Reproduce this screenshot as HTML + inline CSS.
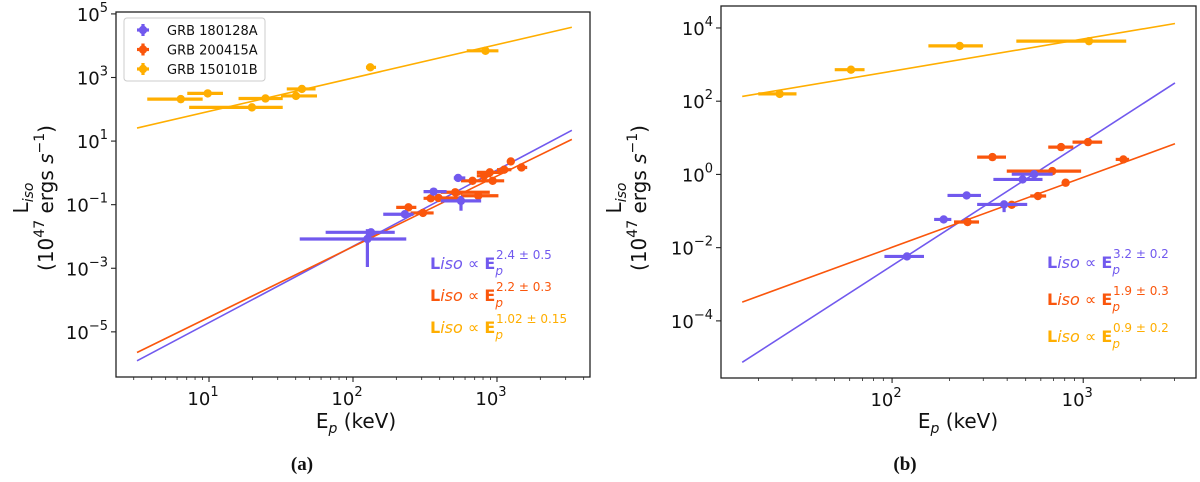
<!DOCTYPE html>
<html><head><meta charset="utf-8"><style>
html,body{margin:0;padding:0;background:#fff;}
svg{display:block;font-family:"DejaVu Sans","Liberation Sans",sans-serif;}
</style></head><body>
<svg id="fig" width="1200" height="482" viewBox="0 0 1200 482"></svg>
<script>
// ---------- data (log10 values) ----------
// Panel a
const aYelLogE=[0.804,0.991,1.298,1.392,1.604,1.645,2.12,2.92];
const aYelLogEmin=[0.571,0.849,0.862,1.205,1.5,1.54,2.09,2.79];
const aYelLogEmax=[0.956,1.097,1.512,1.512,1.75,1.74,2.16,3.01];
const aYelLogL=[2.32,2.50,2.06,2.34,2.42,2.64,3.32,3.84];
const aPurLogE=[2.10,2.125,2.36,2.56,2.73,2.75];
const aPurLogEmin=[1.63,1.81,2.21,2.49,2.70,2.61];
const aPurLogEmax=[2.37,2.29,2.42,2.65,2.78,2.89];
const aPurLogL=[-2.08,-1.87,-1.30,-0.59,-0.16,-0.88];
const aPurLogLmin=[-2.96,-2.0,-1.4,-0.65,-0.22,-1.19];
const aPurLogLmax=[-1.77,-1.75,-1.2,-0.53,-0.1,-0.72];
const aRedLogE=[2.385,2.486,2.54,2.594,2.71,2.87,2.83,2.91,2.95,2.97,3.05,3.096,3.17];
const aRedLogEmin=[2.30,2.40,2.49,2.51,2.61,2.75,2.75,2.86,2.86,2.90,3.0,3.07,3.14];
const aRedLogEmax=[2.44,2.56,2.62,2.75,2.95,3.01,2.94,2.96,3.04,3.05,3.1,3.12,3.21];
const aRedLogL=[-1.085,-1.26,-0.80,-0.79,-0.61,-0.72,-0.25,-0.09,0.016,-0.25,0.10,0.36,0.17];
const aSlopes=[2.4,2.22,1.05];
const aIntercepts=[-7.11,-6.76,0.885];
// Panel b
const bYelLogE=[1.412,1.785,2.354,3.03];
const bYelLogEmin=[1.30,1.70,2.19,2.65];
const bYelLogEmax=[1.50,1.856,2.475,3.225];
const bYelLogL=[2.20,2.86,3.51,3.64];
const bPurLogE=[2.078,2.27,2.39,2.586,2.683,2.743];
const bPurLogEmin=[1.96,2.22,2.29,2.445,2.53,2.626];
const bPurLogEmax=[2.167,2.31,2.465,2.707,2.787,2.84];
const bPurLogL=[-2.24,-1.23,-0.574,-0.82,-0.137,0.006];
const bPurLogLmin=[-2.24,-1.23,-0.574,-1.03,-0.137,0.006];
const bPurLogLmax=[-2.24,-1.23,-0.574,-0.71,-0.137,0.006];
const bRedLogE=[2.395,2.525,2.626,2.763,2.838,2.884,2.908,3.025,3.21];
const bRedLogEmin=[2.324,2.445,2.596,2.723,2.60,2.817,2.908,2.944,3.17];
const bRedLogEmax=[2.455,2.596,2.656,2.806,2.989,2.948,2.908,3.099,3.24];
const bRedLogL=[-1.30,0.473,-0.83,-0.59,0.09,0.746,-0.227,0.883,0.41];
const bSlopes=[3.37,1.91,0.88];
const bIntercepts=[-9.23,-5.81,1.06];
const aXTicks=[1,2,3];
const aYTicks=[5,3,1,-1,-3,-5];
const bXTicks=[2,3];
const bYTicks=[4,2,0,-2,-4];
const aLabels=[["2.4","0.5"],["2.2","0.3"],["1.02","0.15"]];
const bLabels=[["3.2","0.2"],["1.9","0.3"],["0.9","0.2"]];

const PUR="#7159ee",RED="#fa560c",YEL="#ffae00";
const NS="http://www.w3.org/2000/svg";
const svg=document.getElementById('fig');
function mk(tag,attrs,parent){const e=document.createElementNS(NS,tag);for(const k in attrs)e.setAttribute(k,attrs[k]);(parent||svg).appendChild(e);return e;}

function panel(cfg){
  const g=mk('g',{});
  
  
  const X=v=>cfg.x0+(v-cfg.lx0)/(cfg.lx1-cfg.lx0)*(cfg.x1-cfg.x0);
  const Y=v=>cfg.y1-(v-cfg.ly0)/(cfg.ly1-cfg.ly0)*(cfg.y1-cfg.y0);
  const cid='clip'+cfg.name;
  const cp=mk('clipPath',{id:cid},g);mk('rect',{x:cfg.x0,y:cfg.y0,width:cfg.x1-cfg.x0,height:cfg.y1-cfg.y0},cp);
  const plot=mk('g',{'clip-path':'url(#'+cid+')'},g);
  
  
  const cols=[PUR,RED,YEL];
  const lx=cfg.fitX;
  for(let i=0;i<3;i++){
    const l=mk('line',{x1:X(lx[0]),y1:Y(cfg.slopes[i]*lx[0]+cfg.ints[i]),x2:X(lx[1]),y2:Y(cfg.slopes[i]*lx[1]+cfg.ints[i]),stroke:cols[i],'stroke-width':1.6},plot);
    
    
  }
  cfg.series.forEach(s=>{
    for(let i=0;i<s.e.length;i++){
      const pg=mk('g',{},plot);
      
      
      mk('line',{x1:X(s.emin[i]),x2:X(s.emax[i]),y1:Y(s.l[i]),y2:Y(s.l[i]),stroke:s.c,'stroke-width':3.2},pg);
      if(s.lmin){mk('line',{x1:X(s.e[i]),x2:X(s.e[i]),y1:Y(s.lmin[i]),y2:Y(s.lmax[i]),stroke:s.c,'stroke-width':3.2},pg);}
      mk('circle',{cx:X(s.e[i]),cy:Y(s.l[i]),r:4.2,fill:s.c},pg);
    }
  });
  const fr=mk('rect',{x:cfg.x0,y:cfg.y0,width:cfg.x1-cfg.x0,height:cfg.y1-cfg.y0,fill:'none',stroke:'#222','stroke-width':1.3},g);
  
  
  for(let d=Math.floor(cfg.lx0);d<=Math.ceil(cfg.lx1);d++){
    for(let m=1;m<10;m++){
      const v=d+Math.log10(m);
      if(v<cfg.lx0||v>cfg.lx1)continue;
      const px=X(v);
      mk('line',{x1:px,x2:px,y1:cfg.y1,y2:cfg.y1+(m==1?5:3),stroke:'#222','stroke-width':m==1?1.1:0.8},g);
    }
  }
  cfg.xt.forEach(t=>{
    const tx=mk('text',{x:X(t)-6,y:cfg.y1+28,'font-size':18,'text-anchor':'middle',fill:'#111'},g);
    
    
    tx.innerHTML='10<tspan dy="-9" font-size="13">'+t+'</tspan>';
  });
  cfg.yt.forEach(t=>{
    const py=Y(t);
    mk('line',{x1:cfg.x0-5,x2:cfg.x0,y1:py,y2:py,stroke:'#222','stroke-width':1.1},g);
    const tx=mk('text',{x:cfg.x0-8,y:py+7,'font-size':18,'text-anchor':'end',fill:'#111'},g);
    
    
    tx.innerHTML='10<tspan dy="-9" font-size="13">'+(t<0?'\u2212'+(-t):t)+'</tspan>';
  });
  const xl=mk('text',{x:cfg.xlx,y:428,'font-size':20,'text-anchor':'middle',fill:'#111'},g);
  
  
  xl.innerHTML='E<tspan dy="5" font-size="14" font-style="italic">p</tspan><tspan dy="-5">\u00A0(keV)</tspan>';
  const yl=mk('text',{transform:'translate('+cfg.ylx+','+cfg.yly+') rotate(-90)','font-size':20,'text-anchor':'middle',fill:'#111'},g);
  
  
  yl.innerHTML='<tspan x="0" dy="0">L<tspan dy="5" font-size="14" font-style="italic">iso</tspan></tspan><tspan x="0" dy="20">(10<tspan dy="-9" font-size="14">47</tspan><tspan dy="9">\u00A0ergs\u00A0</tspan><tspan font-style="italic">s</tspan><tspan dy="-9" font-size="14">\u22121</tspan><tspan dy="9">)</tspan></tspan>';
  for(let i=0;i<3;i++){
    const t=mk('text',{x:cfg.lbx,y:cfg.lby[i],'font-size':16,fill:cols[i]},g);
    
    
    t.innerHTML='<tspan font-weight="bold">L</tspan><tspan font-style="italic">iso</tspan>\u00A0\u221D\u00A0<tspan font-weight="bold">E</tspan><tspan dy="6" font-size="12" font-style="italic">p</tspan><tspan dx="-7" dy="-16" font-size="12">'+cfg.labels[i][0]+'\u00A0\u00B1\u00A0'+cfg.labels[i][1]+'</tspan>';
  }
  const cap=mk('text',{x:cfg.capx,y:470,'font-size':19,'font-weight':'bold','text-anchor':'middle','font-family':'Liberation Serif,serif',fill:'#111'},g);
  
  
  cap.textContent=cfg.cap;
  return g;
}

panel({name:'panel-a',x0:116,x1:590,y0:12,y1:377,lx0:0.354,lx1:3.646,ly0:-6.42,ly1:5.06,
  fitX:[0.5,3.52],slopes:aSlopes,ints:aIntercepts,xt:aXTicks,yt:aYTicks,
  series:[{c:YEL,e:aYelLogE,emin:aYelLogEmin,emax:aYelLogEmax,l:aYelLogL},
          {c:RED,e:aRedLogE,emin:aRedLogEmin,emax:aRedLogEmax,l:aRedLogL},
          {c:PUR,e:aPurLogE,emin:aPurLogEmin,emax:aPurLogEmax,l:aPurLogL,lmin:aPurLogLmin,lmax:aPurLogLmax}],
  xlx:356,ylx:28,yly:198,lbx:430,lby:[269,301,333],labels:aLabels,capx:302,cap:'(a)'});
panel({name:'panel-b',x0:721,x1:1196,y0:6,y1:378,lx0:1.105,lx1:3.59,ly0:-5.56,ly1:4.6,
  fitX:[1.216,3.48],slopes:bSlopes,ints:bIntercepts,xt:bXTicks,yt:bYTicks,
  series:[{c:YEL,e:bYelLogE,emin:bYelLogEmin,emax:bYelLogEmax,l:bYelLogL},
          {c:RED,e:bRedLogE,emin:bRedLogEmin,emax:bRedLogEmax,l:bRedLogL},
          {c:PUR,e:bPurLogE,emin:bPurLogEmin,emax:bPurLogEmax,l:bPurLogL,lmin:bPurLogLmin,lmax:bPurLogLmax}],
  xlx:958,ylx:621,yly:198,lbx:1047,lby:[268,305,342],labels:bLabels,capx:905,cap:'(b)'});

const lg=mk('g',{});


mk('rect',{x:124,y:18,width:141,height:63,rx:3,fill:'#fff',stroke:'#ccc','stroke-width':1},lg);
const legNames=['GRB 180128A','GRB 200415A','GRB 150101B'];
const legCols=[PUR,RED,YEL];
for(let i=0;i<3;i++){
  const y=30+i*19.5;
  const e=mk('g',{},lg);
  
  
  mk('line',{x1:137,x2:149,y1:y,y2:y,stroke:legCols[i],'stroke-width':3.2},e);
  mk('line',{x1:143,x2:143,y1:y-6,y2:y+6,stroke:legCols[i],'stroke-width':3.2},e);
  mk('circle',{cx:143,cy:y,r:4.2,fill:legCols[i]},e);
  const t=mk('text',{x:167,y:y+5,'font-size':13,fill:'#111'},e);
  t.textContent=legNames[i];
}
</script>
</body></html>
